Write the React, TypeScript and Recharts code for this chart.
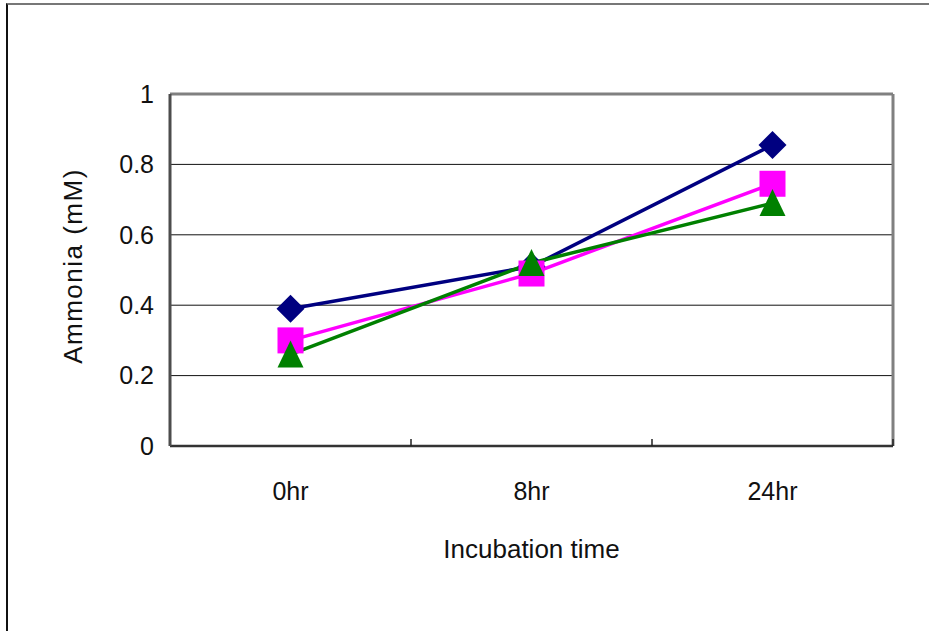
import React from "react";
import {
  LineChart,
  Line,
  XAxis,
  YAxis,
  CartesianGrid,
  ReferenceLine,
} from "recharts";

// incubation time points and measured ammonia (mM) per sample
const times = ["0hr", "8hr", "24hr"];
const navySeries = [0.39, 0.51, 0.855];
const pinkSeries = [0.3, 0.49, 0.745];
const greenSeries = [0.26, 0.52, 0.69];
const yTicks = [0, 0.2, 0.4, 0.6, 0.8, 1];

const data = times.map((time, i) => ({
  time,
  navy: navySeries[i],
  pink: pinkSeries[i],
  green: greenSeries[i],
}));

const FONT = "'Liberation Sans', Arial, sans-serif";
const tickStyle = { fill: "#111", fontSize: 25, fontFamily: FONT };
const FRAME = "#808080";
const X_TICK_GAP = 36;

const Diamond = (props: any) => {
  const { cx, cy, fill } = props;
  if (cx == null || cy == null) return <g />;
  const r = 14;
  return (
    <polygon
      points={`${cx},${cy - r} ${cx + r},${cy} ${cx},${cy + r} ${cx - r},${cy}`}
      fill={fill}
    />
  );
};

const Square = (props: any) => {
  const { cx, cy, fill } = props;
  if (cx == null || cy == null) return <g />;
  const h = 13;
  return <rect x={cx - h} y={cy - h} width={h * 2} height={h * 2} fill={fill} />;
};

const Triangle = (props: any) => {
  const { cx, cy, fill } = props;
  if (cx == null || cy == null) return <g />;
  return (
    <polygon
      points={`${cx},${cy - 14} ${cx + 13},${cy + 13} ${cx - 13},${cy + 13}`}
      fill={fill}
    />
  );
};

// category label plus a small inward tick on the band's right edge
const TimeTick = (props: any) => {
  const { x, y, payload } = props;
  const half = payload?.offset ?? 0;
  const axisY = y - X_TICK_GAP;
  const edge = x + half;
  return (
    <g>
      <line x1={edge} x2={edge} y1={axisY} y2={axisY - 7} stroke="#222" strokeWidth={1.5} />
      <text
        x={x}
        y={y}
        dy="0.71em"
        textAnchor="middle"
        fill={tickStyle.fill}
        fontSize={tickStyle.fontSize}
        fontFamily={tickStyle.fontFamily}
      >
        {payload.value}
      </text>
    </g>
  );
};

const YLabel = (props: any) => {
  const vb = props.viewBox || {};
  const x = (vb.x ?? 0) + 82;
  const y = (vb.y ?? 0) + vb.height / 2 - 4;
  return (
    <text
      x={x}
      y={y}
      transform={`rotate(-90, ${x}, ${y})`}
      textAnchor="middle"
      fill="#111"
      fontSize={26}
      letterSpacing={1.5}
      fontFamily={FONT}
    >
      Ammonia (mM)
    </text>
  );
};

export default function App() {
  return (
    <div
      style={{
        position: "absolute",
        left: 0,
        top: 0,
        width: 929,
        height: 631,
        overflow: "hidden",
        background: "#fff",
      }}
    >
      <div
        style={{
          position: "absolute",
          left: 6,
          top: 3,
          width: 1000,
          height: 1000,
          borderLeft: "2px solid #111",
          borderTop: "2px solid #777",
        }}
      />
      <div style={{ position: "absolute", left: 0, top: 0 }}>
        <LineChart
          width={929}
          height={631}
          data={data}
          margin={{ top: 94, right: 36, bottom: 0, left: 0 }}
        >
          <CartesianGrid vertical={false} stroke="#111" strokeWidth={1} />
          <XAxis
            dataKey="time"
            scale="band"
            height={185}
            axisLine={{ stroke: "#333", strokeWidth: 2.5 }}
            tickLine={false}
            tickSize={0}
            tickMargin={X_TICK_GAP}
            tick={<TimeTick />}
            label={{
              value: "Incubation time",
              position: "insideBottom",
              offset: 73,
              fill: "#111",
              fontSize: 26,
              fontFamily: FONT,
            }}
          />
          <YAxis
            width={170}
            domain={[0, 1]}
            ticks={yTicks}
            axisLine={{ stroke: "#4d4d4d", strokeWidth: 3 }}
            tickLine={false}
            tickSize={0}
            tickMargin={16}
            tick={tickStyle}
            label={<YLabel />}
          />
          {/* plot frame: top and right edges */}
          <ReferenceLine y={1} stroke={FRAME} strokeWidth={3} />
          <ReferenceLine
            x={times[times.length - 1]}
            position="end"
            stroke={FRAME}
            strokeWidth={3}
          />
          <Line
            dataKey="navy"
            stroke="#000080"
            strokeWidth={3.5}
            dot={<Diamond fill="#000080" />}
            activeDot={false}
            isAnimationActive={false}
          />
          <Line
            dataKey="pink"
            stroke="#ff00ff"
            strokeWidth={3.5}
            dot={<Square fill="#ff00ff" />}
            activeDot={false}
            isAnimationActive={false}
          />
          <Line
            dataKey="green"
            stroke="#008000"
            strokeWidth={3.5}
            dot={<Triangle fill="#008000" />}
            activeDot={false}
            isAnimationActive={false}
          />
        </LineChart>
      </div>
    </div>
  );
}
